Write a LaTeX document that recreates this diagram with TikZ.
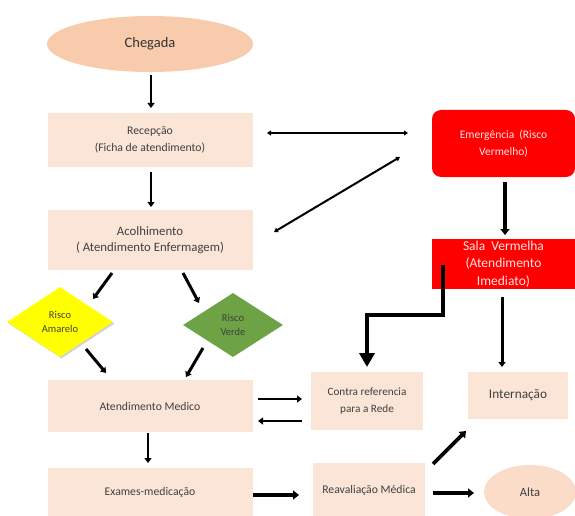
\documentclass[tikz,border=0pt]{standalone}
\usepackage{fontspec}
\setmainfont{Carlito}
\usetikzlibrary{shapes.geometric,arrows.meta,shadows}
\definecolor{peach}{HTML}{FBE5D6}
\definecolor{peachd}{HTML}{F7CBAC}
\definecolor{altac}{HTML}{FADCC8}
\definecolor{txt}{HTML}{404040}
\definecolor{redbox}{HTML}{FF0000}
\definecolor{redtxt}{HTML}{FFE4E4}
\definecolor{ylw}{HTML}{FFFF00}
\definecolor{grn}{HTML}{6DA344}
\newcommand{\fsz}[1]{\fontsize{#1}{16.5}\selectfont}
\tikzset{
  box/.style={rectangle, fill=peach, draw=none, text=txt, align=center, font=\fsz{11.7}},
  redb/.style={rectangle, fill=redbox, draw=none, text=redtxt, align=center, font=\fsz{11.5}},
  dia/.style={diamond, draw=none, text=txt, align=center, font=\fontsize{10.5}{13.5}\selectfont, inner sep=0pt},
  arr/.style={draw=black, line width=2.6pt, -{Triangle[length=5pt,width=7pt]}},
  tarr/.style={draw=black, line width=2pt, {Triangle[length=4pt,width=5pt]}-{Triangle[length=4pt,width=5pt]}},
  bigarr/.style={draw=black, line width=3.6pt, -{Triangle[length=6pt,width=9pt]}},
}
\begin{document}
\begin{tikzpicture}[x=1pt,y=-1pt]
\useasboundingbox (0,0) rectangle (575,516);
\fill[white] (0,0) rectangle (575,516);

% nodes
\node[ellipse, fill=peachd, text=black!80, minimum width=206pt, minimum height=56pt, font=\fontsize{14.5}{16}\selectfont] (chegada) at (150,44) {Chegada};
\node[box, minimum width=205pt, minimum height=54pt] (recep) at (150,140) {Recepção\\(Ficha de atendimento)};
\node[box, minimum width=205pt, minimum height=60pt, font=\fsz{12.8}] (acolh) at (150,240) {Acolhimento\\( Atendimento Enfermagem)};
\node[redb, rounded corners=9pt, minimum width=143pt, minimum height=67pt] (emerg) at (503.5,143.5) {Emergência\ \ (Risco\\Vermelho)};
\node[redb, minimum width=143pt, minimum height=50pt, inner sep=0pt, font=\fontsize{13.5}{17.5}\selectfont] (sala) at (503.5,264) {Sala\ \ Vermelha\\(Atendimento\\Imediato)};
\node[dia, fill=ylw, minimum width=106pt, minimum height=70pt, drop shadow={shadow xshift=1.5pt, shadow yshift=-1.5pt, opacity=0.35}] (amarelo) at (60,322) {Risco\\Amarelo};
\node[dia, fill=grn, minimum width=100pt, minimum height=64pt] (verde) at (233,325) {Risco\\Verde};
\node[box, minimum width=205pt, minimum height=52pt] (atend) at (150,406) {Atendimento Medico};
\node[box, minimum width=205pt, minimum height=48pt] (exames) at (150,492) {Exames-medicação};
\node[box, minimum width=112pt, minimum height=58pt, font=\fsz{11.2}] (contra) at (367,401) {Contra referencia\\para a Rede};
\node[box, minimum width=100pt, minimum height=47pt, font=\fsz{13.3}] (intern) at (518,395.5) {Internação};
\node[box, minimum width=112pt, minimum height=54pt] (reav) at (369,490) {Reavaliação Médica};
\node[ellipse, fill=altac, text=txt, minimum width=92pt, minimum height=54pt, font=\fsz{12.5}] (alta) at (530,492) {Alta};

% connector end points
\coordinate (c1a) at (151,75);  \coordinate (c1b) at (151,108);
\coordinate (c2a) at (151,172); \coordinate (c2b) at (151,207);
\coordinate (c3a) at (267,133); \coordinate (c3b) at (408,133);
\coordinate (c4a) at (400,157); \coordinate (c4b) at (274,232);
\coordinate (c5a) at (505,182); \coordinate (c5b) at (505,235);
\coordinate (c6a) at (112,273); \coordinate (c6b) at (93,299);
\coordinate (c7a) at (183,273); \coordinate (c7b) at (199,303);
\coordinate (c8a) at (86,349);  \coordinate (c8b) at (106,373);
\coordinate (c9a) at (203,348); \coordinate (c9b) at (186,377);
\coordinate (c10a) at (258,399); \coordinate (c10b) at (302,399);
\coordinate (c11a) at (302,421); \coordinate (c11b) at (258,421);
\coordinate (c12a) at (148,433); \coordinate (c12b) at (148,463);
\coordinate (c13a) at (443,265); \coordinate (c13m) at (443,315); \coordinate (c13n) at (367,315); \coordinate (c13b) at (367,367);
\coordinate (c14a) at (502,297); \coordinate (c14b) at (502,367);
\coordinate (c15a) at (253,495); \coordinate (c15b) at (299,495);
\coordinate (c16a) at (433,464); \coordinate (c16b) at (466,431);
\coordinate (c17a) at (433,493); \coordinate (c17b) at (474,493);

% connectors
\draw[arr] (c1a) -- (c1b);
\draw[arr] (c2a) -- (c2b);
\draw[tarr] (c3a) -- (c3b);
\draw[tarr] (c4a) -- (c4b);
\draw[bigarr] (c5a) -- (c5b);
\draw[arr, line width=3pt] (c6a) -- (c6b);
\draw[arr, line width=3pt] (c7a) -- (c7b);
\draw[arr, line width=3pt] (c8a) -- (c8b);
\draw[arr, line width=3pt] (c9a) -- (c9b);
\draw[arr] (c10a) -- (c10b);
\draw[arr] (c11a) -- (c11b);
\draw[arr] (c12a) -- (c12b);
\draw[draw=black, line width=3.6pt, -{Triangle[length=14pt,width=15pt]}] (c13a) -- (c13m) -- (c13n) -- (c13b);
\draw[arr, line width=3pt] (c14a) -- (c14b);
\draw[bigarr] (c15a) -- (c15b);
\draw[bigarr] (c16a) -- (c16b);
\draw[bigarr] (c17a) -- (c17b);
\end{tikzpicture}
\end{document}
